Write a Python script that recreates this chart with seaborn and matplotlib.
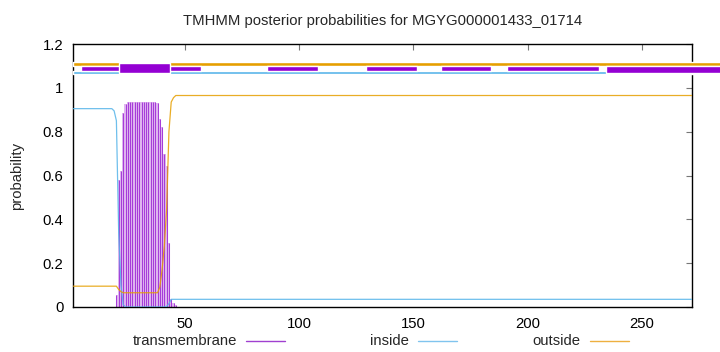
import matplotlib
matplotlib.use("Agg")
import matplotlib.pyplot as plt
from matplotlib.lines import Line2D
import pandas as pd
import seaborn as sns

# ---------------- data ----------------
title = "TMHMM posterior probabilities for MGYG000001433_01714"
seq_len = 272

# transmembrane posterior (impulses), residues 20..46
tm_res = list(range(20, 47))
tm_prob = [0.055, 0.58, 0.62, 0.884, 0.925,
           0.937, 0.937, 0.937, 0.937, 0.937, 0.937, 0.937,
           0.937, 0.937, 0.937, 0.937, 0.937, 0.937,
           0.93, 0.858, 0.82, 0.697, 0.644, 0.29, 0.036, 0.02, 0.01]

# inside posterior (read breakpoints)
inside_x = [1, 18, 19, 20, 21, 22, 23, 24, 41, 42, 43, 44, 272]
inside_y = [0.905, 0.905, 0.895, 0.85, 0.34, 0.10, 0.01, 0.0, 0.0, 0.003, 0.015, 0.035, 0.035]

# outside posterior (read breakpoints)
outside_x = [1, 20, 21, 22, 23, 38, 39, 40, 41, 42, 43, 44, 45, 46, 272]
outside_y = [0.095, 0.095, 0.08, 0.07, 0.065, 0.065, 0.09, 0.17, 0.28, 0.45, 0.80, 0.935, 0.955, 0.965, 0.965]

# top topology bars
top_band_start = 1
top_band_end = 285
narrow_tm_start = [4.7, 86.1, 129.2, 162.3, 191.2]
narrow_tm_end = [57.2, 108.1, 151.4, 184.2, 231.2]
thick_tm_start = [21.0, 234.2]
thick_tm_end = [43.3, 285.0]

xticks = [50, 100, 150, 200, 250]
yticks = [0, 0.2, 0.4, 0.6, 0.8, 1.0, 1.2]
ytick_labels = ["0", "0.2", "0.4", "0.6", "0.8", "1", "1.2"]
legend_labels = ["transmembrane", "inside", "outside"]

# ---------------- style ----------------
sns.set_theme(style="white")
plt.rcParams["font.family"] = ["Liberation Sans", "DejaVu Sans"]

C_TM = "#9400D3"
C_IN = "#56B4E9"
C_OUT = "#E69F00"
FS = 10.7

W, H = 720, 352
fig = plt.figure(figsize=(W / 100, H / 100), dpi=100)
fig.patch.set_facecolor("white")
L, R, T, B = 73, 692, 44, 307
ax = fig.add_axes([L / W, 1 - B / H, (R - L) / W, (B - T) / H])
ax.set_facecolor("white")

# transmembrane impulses
ax.fill_between(tm_res, 0, tm_prob, step="mid", color="#e0b6f0", lw=0, zorder=1)
ax.vlines(tm_res, 0, tm_prob, color="#a63cd9", lw=0.75, zorder=2)

# inside / outside curves
df_in = pd.DataFrame({"res": inside_x, "p": inside_y})
df_out = pd.DataFrame({"res": outside_x, "p": outside_y})
sns.lineplot(data=df_in, x="res", y="p", ax=ax, color=C_IN, lw=0.9, alpha=0.85, zorder=3)
sns.lineplot(data=df_out, x="res", y="p", ax=ax, color=C_OUT, lw=0.9, alpha=0.85, zorder=3)

# top topology bands
ax.broken_barh([(top_band_start, top_band_end - top_band_start)], (1.1018, 0.0183),
               facecolors=C_OUT, clip_on=False, zorder=4)
ax.broken_barh([(top_band_start, top_band_end - top_band_start)], (1.0639, 0.0151),
               facecolors=C_IN, clip_on=False, zorder=4)
ax.broken_barh([(s, e - s) for s, e in zip(narrow_tm_start, narrow_tm_end)], (1.0790, 0.0228),
               facecolors=C_TM, clip_on=False, zorder=5)
ax.broken_barh([(thick_tm_start[0], thick_tm_end[0] - thick_tm_start[0])], (1.0671, 0.0484),
               facecolors=C_TM, clip_on=False, zorder=6)
ax.broken_barh([(thick_tm_start[1], thick_tm_end[1] - thick_tm_start[1])], (1.0671, 0.0347),
               facecolors=C_TM, clip_on=False, zorder=6)

ax.set_xlim(1, seq_len)
ax.set_ylim(0, 1.2)
ax.set_xticks(xticks)
ax.set_xticklabels([str(t) for t in xticks])
ax.set_yticks(yticks)
ax.set_yticklabels(ytick_labels)
ax.tick_params(direction="in", length=4, width=0.8, color="#777777",
               top=True, right=True, labelsize=FS, labelcolor="black", pad=7)
for s in ax.spines.values():
    s.set_visible(True)
    s.set_color("black")
    s.set_linewidth(1.0)
ax.set_xlabel("")
ax.set_ylabel("probability", fontsize=FS)
ax.yaxis.set_label_coords((17 - L) / (R - L), 0.5)
ax.yaxis.label.set_va("center")

fig.text(382.5 / W, 1 - 21 / H, title, ha="center", va="center", fontsize=FS)

# legend (gnuplot style: text then sample)
leg_y = 1 - 341 / H
text_right = [237.5, 409, 580.5]
line_l = [245.7, 418, 590]
line_r = [284.8, 456.6, 629]
leg_colors = ["#a040d0", "#80c4ee", "#eeb040"]
for lab, tr, l0, l1, c in zip(legend_labels, text_right, line_l, line_r, leg_colors):
    fig.text(tr / W, leg_y, lab, ha="right", va="center", fontsize=FS)
    fig.add_artist(Line2D([l0 / W, l1 / W], [leg_y, leg_y], color=c, lw=1.0,
                          transform=fig.transFigure))

fig.savefig("out.png", dpi=100, facecolor="white")
